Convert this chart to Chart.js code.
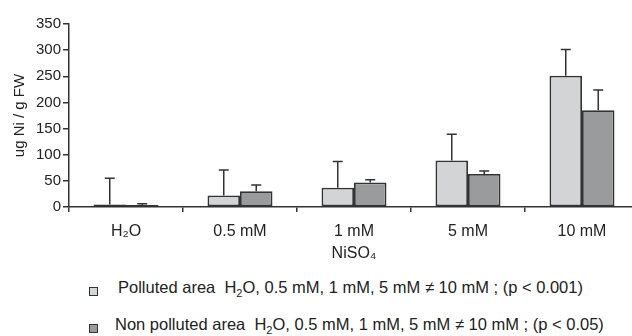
<!DOCTYPE html>
<html>
<head>
<meta charset="utf-8">
<script src="https://cdn.jsdelivr.net/npm/chart.js@4/dist/chart.umd.min.js"></script>
<style>
  html, body { margin: 0; padding: 0; background: #fff; width: 632px; height: 336px; overflow: hidden; position: relative; }
  #wrap { position: absolute; left: 0; top: 0; width: 660px; height: 268px; }
  .lg { position: absolute; font-family: "Liberation Sans", Arial, sans-serif; font-size: 16.5px; color: #222; white-space: nowrap; line-height: 18px; }
  .sq { position: absolute; width: 7px; height: 7px; border: 1.5px solid #333; }
  sub { font-size: 11px; vertical-align: -4px; line-height: 0; }
</style>
</head>
<body>
<div id="wrap"><canvas id="c" width="660" height="268"></canvas></div>
<div class="sq" style="left:89px; top:287px; background:#d3d4d6;"></div>
<div class="lg" style="left:118px; top:278px;">Polluted area&nbsp; H<sub>2</sub>O, 0.5 mM, 1 mM, 5 mM ≠ 10 mM ; (p &lt; 0.001)</div>
<div class="sq" style="left:89px; top:324px; background:#9a9b9d;"></div>
<div class="lg" style="left:115px; top:315px;">Non polluted area&nbsp; H<sub>2</sub>O, 0.5 mM, 1 mM, 5 mM ≠ 10 mM ; (p &lt; 0.05)</div>
<script>
const categories = ['H₂O', '0.5 mM', '1 mM', '5 mM', '10 mM'];
const polluted = [5, 22, 37, 89, 251];
const pollutedErr = [50, 49, 50, 50, 50];
const nonPolluted = [4, 30, 47, 63, 185];
const nonPollutedErr = [2, 12, 5, 6, 39];
const yTicks = [0, 50, 100, 150, 200, 250, 300, 350];

const errors = [pollutedErr, nonPollutedErr];
const FONT = '"Liberation Sans", Arial, sans-serif';

const errorBarPlugin = {
  id: 'errorBars',
  afterDatasetsDraw(chart) {
    const ctx = chart.ctx;
    const y = chart.scales.y;
    ctx.save();
    ctx.strokeStyle = '#333';
    ctx.lineWidth = 1.5;
    chart.data.datasets.forEach((ds, di) => {
      const meta = chart.getDatasetMeta(di);
      meta.data.forEach((bar, i) => {
        const top = y.getPixelForValue(ds.data[i] + errors[di][i]);
        const base = y.getPixelForValue(ds.data[i]);
        ctx.beginPath();
        ctx.moveTo(bar.x, base);
        ctx.lineTo(bar.x, top);
        ctx.moveTo(bar.x - 5, top);
        ctx.lineTo(bar.x + 5, top);
        ctx.stroke();
      });
    });
    ctx.restore();
  }
};

new Chart(document.getElementById('c'), {
  type: 'bar',
  data: {
    labels: categories,
    datasets: [
      { label: 'Polluted area', data: polluted, backgroundColor: '#d3d4d6', borderColor: '#333', borderWidth: 1.8, borderSkipped: false, categoryPercentage: 0.57, barPercentage: 1.0 },
      { label: 'Non polluted area', data: nonPolluted, backgroundColor: '#9a9b9d', borderColor: '#333', borderWidth: 1.8, borderSkipped: false, categoryPercentage: 0.57, barPercentage: 1.0 }
    ]
  },
  options: {
    responsive: false,
    animation: false,
    devicePixelRatio: 1,
    layout: { padding: { top: 24, right: 21, left: 0, bottom: 0 } },
    plugins: { legend: { display: false }, tooltip: { enabled: false } },
    scales: {
      x: {
        offset: true,
        afterFit(scale) { scale.height = 61; },
        grid: { offset: true, drawOnChartArea: false, drawTicks: true, tickLength: 5, color: '#333', lineWidth: 1.5 },
        border: { display: true, color: '#333', width: 1.5 },
        ticks: { color: '#222', font: { family: FONT, size: 16 }, padding: 10, maxRotation: 0, autoSkip: false },
        title: { display: true, text: 'NiSO₄', color: '#222', font: { family: FONT, size: 16 }, padding: { top: 0, bottom: 5 } }
      },
      y: {
        min: 0, max: 350,
        afterFit(scale) { scale.width = 69; },
        afterBuildTicks(scale) { scale.ticks = yTicks.map(v => ({ value: v })); },
        grid: { drawOnChartArea: false, drawTicks: true, tickLength: 6, color: '#333', lineWidth: 1.5 },
        border: { display: true, color: '#333', width: 1.5 },
        ticks: { color: '#222', font: { family: FONT, size: 15 }, padding: 2 },
        title: { display: true, text: 'ug Ni / g FW', color: '#222', font: { family: FONT, size: 15 }, padding: { top: 11, bottom: 0 } }
      }
    }
  },
  plugins: [errorBarPlugin]
});
</script>
</body>
</html>
